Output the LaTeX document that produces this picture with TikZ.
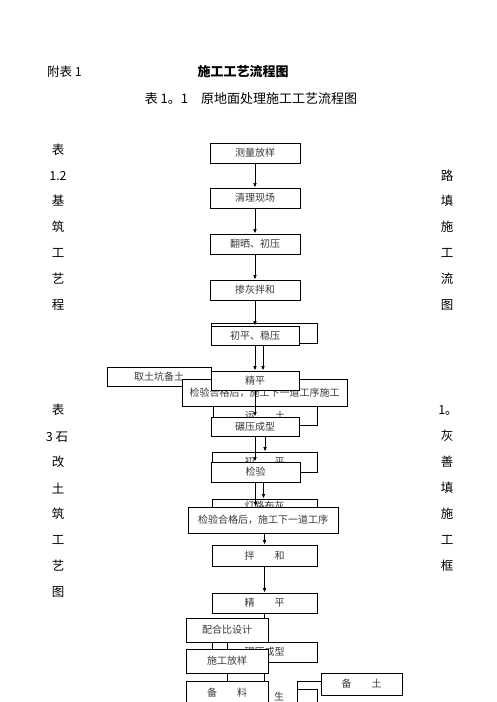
\documentclass[tikz,border=0pt]{standalone}
\usepackage{fontspec}
\setmainfont{Noto Sans CJK SC}
\usetikzlibrary{arrows.meta}
\definecolor{boxtxt}{HTML}{3A3A3A}
\tikzset{
  bx/.style={draw=black, line width=0.6pt, fill=white, inner sep=0pt, font=\fontsize{10}{11}\selectfont, text=boxtxt},
  arr/.style={draw=black, line width=0.9pt, -{Latex[length=4.5pt,width=3.5pt]}},
  ln/.style={draw=black, line width=0.6pt},
  side/.style={inner sep=0pt, font=\fontsize{12.5}{13}\selectfont, text=black},
}
\begin{document}
\begin{tikzpicture}[x=1pt,y=1pt]
\useasboundingbox[fill=white] (0,0) rectangle (496,-702);
% headers
\node[side, font=\fontsize{12.5}{13}\selectfont] (fb) at (64.5,-72) {附表 1};
\node[side, font=\bfseries\fontsize{13}{14}\selectfont] (title) at (243,-72) {施工工艺流程图};
\node[side, font=\fontsize{13}{14}\selectfont] (sub) at (251,-99) {表 1。1\hspace{1em}原地面处理施工工艺流程图};
% left column
\node[side] (l1) at (58,-150) {表};
\node[side] (l2) at (58,-176) {1.2};
\node[side] (l3) at (58,-201) {基};
\node[side] (l4) at (58,-227) {筑};
\node[side] (l5) at (58,-253) {工};
\node[side] (l6) at (58,-279) {艺};
\node[side] (l7) at (58,-305) {程};
\node[side] (m1) at (58,-410) {表};
\node[side] (m2) at (57,-437) {3 石};
\node[side] (m3) at (58,-462) {改};
\node[side] (m4) at (58,-488) {土};
\node[side] (m5) at (58,-514) {筑};
\node[side] (m6) at (58,-540) {工};
\node[side] (m7) at (58,-566) {艺};
\node[side] (m8) at (58,-592) {图};
% right column
\node[side] (r1) at (447,-176) {路};
\node[side] (r2) at (447,-201) {填};
\node[side] (r3) at (447,-227) {施};
\node[side] (r4) at (447,-253) {工};
\node[side] (r5) at (447,-279) {流};
\node[side] (r6) at (447,-305) {图};
\node[side] (s1) at (448,-410) {1。};
\node[side] (s2) at (447,-436) {灰};
\node[side] (s3) at (447,-462) {善};
\node[side] (s4) at (447,-488) {填};
\node[side] (s5) at (447,-514) {施};
\node[side] (s6) at (447,-540) {工};
\node[side] (s7) at (447,-566) {框};
% boxes
\node[bx, minimum width=90, minimum height=20] (A) at (255,-153) {测量放样};
\node[bx, minimum width=90, minimum height=20] (B) at (255,-198) {清理现场};
\node[bx, minimum width=90, minimum height=20] (C) at (255,-244) {翻晒、初压};
\node[bx, minimum width=90, minimum height=20] (D) at (255,-290) {掺灰拌和};
\node[bx, minimum width=106, minimum height=20] (Eb) at (264,-333) {};
\node[bx, minimum width=88, minimum height=19] (E) at (255,-335.5) {初平、稳压};
\node[bx, minimum width=104, minimum height=19] (Gb) at (159,-376.5) {取土坑备土};
\node[bx, minimum width=165, minimum height=27] (Hb) at (264.5,-392.5) {检验合格后，施工下一道工序施工};
\node[bx, minimum width=88, minimum height=19] (F) at (255,-380.5) {精平};
\node[bx, minimum width=104, minimum height=19] (Ib) at (265,-415.5) {运\hspace{2em}土};
\node[bx, minimum width=88, minimum height=19] (J) at (255,-426.5) {碾压成型};
\node[bx, minimum width=105, minimum height=20] (Kb) at (264.5,-462) {初\hspace{2em}平};
\node[bx, minimum width=89, minimum height=20] (L) at (255.5,-472) {检验};
\node[bx, minimum width=105, minimum height=14] (Mb) at (264.5,-506) {灯路布灰};
\node[bx, minimum width=150, minimum height=26] (M) at (263,-520) {检验合格后，施工下一道工序};
\node[bx, minimum width=105, minimum height=21] (N) at (264.5,-555.5) {拌\hspace{2em}和};
\node[bx, minimum width=105, minimum height=20] (O) at (264.5,-603) {精\hspace{2em}平};
\node[bx, minimum width=105, minimum height=20] (Pb) at (264.5,-652) {碾压成型};
\node[bx, minimum width=82, minimum height=24] (Q) at (227,-630) {配合比设计};
\node[bx, minimum width=82, minimum height=24] (R) at (227,-661) {施工放样};
\node[bx, minimum width=82, minimum height=24] (S) at (227,-693) {备\hspace{2em}料};
\node[bx, minimum width=81, minimum height=22] (T) at (361.5,-684) {备\hspace{2em}土};
\node[inner sep=0pt, font=\fontsize{10}{11}\selectfont, text=boxtxt] (sheng) at (279,-697) {生};
% partial back box near 备土
\coordinate (u1) at (297,-705);
\coordinate (u2) at (297,-681);
\coordinate (u3) at (317,-689);
\coordinate (u4) at (317,-705);
\draw[ln] (u1) -- (u2) -- (u2 -| T.west);
\draw[ln] (u3 -| u1) -- (u3) -- (u4);
% connectors
\draw[arr] (A) -- (B);
\draw[arr] (B) -- (C);
\draw[arr] (C) -- (D);
\draw[arr] (D) -- (E);
\draw[arr] (E.south) -- (F.north);
\draw[arr] ([xshift=8pt]E.south) -- ([xshift=8pt]F.north);
\draw[arr] (F) -- (J);
\draw[arr] (J.south) -- (J.south |- L.north);
\draw[arr] ([xshift=10pt]J.south) -- ([xshift=10pt]J.south |- Kb.north);
\draw[arr] (L.south) -- (L.south |- M.north);
\draw[arr] ([xshift=8pt]L.south) -- ([xshift=8pt]L.south |- Mb.north);
\draw[arr] (N.north |- M.south) -- (N.north);
\draw[arr] (N) -- (O);
\draw[ln] (O.south) -- (O.south |- Q.north);
\draw[ln] (Q.south) -- (R.north);
\draw[ln] (R.south) -- (S.north);
\draw[ln] ([xshift=37pt]R.south) -- ([xshift=37pt]S.north);
\end{tikzpicture}
\end{document}
